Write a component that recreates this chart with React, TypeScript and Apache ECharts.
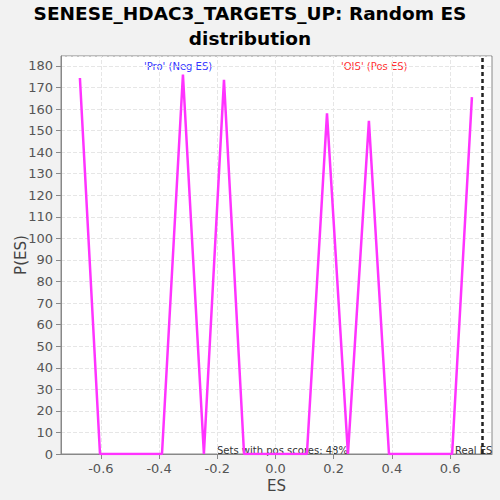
import React, { useEffect, useRef } from "react";
import * as echarts from "echarts";

const esValues = [-0.672, -0.603, -0.39, -0.318, -0.246, -0.177, -0.108, 0.108, 0.177, 0.249, 0.321, 0.39, 0.607, 0.675];
const pValues = [174.4, 0, 0, 176, 0, 173.5, 0, 0, 158, 0, 154.5, 0, 0, 165.5];
const xTicks = [-0.6, -0.4, -0.2, 0.0, 0.2, 0.4, 0.6];
const realES = 0.71;
const posScoreText = "Sets with pos scores: 48%";

export default function App() {
  const ref = useRef<HTMLDivElement>(null);
  useEffect(() => {
    const chart = echarts.init(ref.current!, null, { renderer: "svg" });
    const font = "DejaVu Sans";
    chart.setOption({
      animation: false,
      backgroundColor: "#f2f2f2",
      title: {
        text: "SENESE_HDAC3_TARGETS_UP: Random ES\ndistribution",
        left: "center",
        top: -4,
        textStyle: { fontFamily: font, fontWeight: "bold", fontSize: 18.5, lineHeight: 25, color: "#000" },
      },
      grid: {
        left: 61, right: 8, top: 56, bottom: 46, show: true, backgroundColor: "#fff", borderColor: "#888", borderWidth: 1,
        outerBoundsMode: "none", containLabel: false,
      },
      xAxis: {
        type: "value",
        min: -0.737,
        max: 0.744,
        name: "ES",
        nameLocation: "middle",
        nameGap: 24,
        nameMoveOverlap: false,
        nameTextStyle: { fontFamily: font, fontSize: 15, color: "#444" },
        axisLine: { onZero: false, lineStyle: { color: "#888" } },
        axisTick: { customValues: xTicks, lineStyle: { color: "#888" } },
        axisLabel: {
          customValues: xTicks,
          fontFamily: font,
          fontSize: 13,
          color: "#555",
          formatter: (v: number) => v.toFixed(1),
        },
        splitLine: { show: false },
      },
      yAxis: {
        type: "value",
        min: 0,
        max: 184.6,
        interval: 10,
        name: "P(ES)",
        nameLocation: "middle",
        nameGap: 33,
        nameMoveOverlap: false,
        nameTextStyle: { fontFamily: font, fontSize: 15, color: "#444" },
        axisLine: { show: true, onZero: false, lineStyle: { color: "#888" } },
        axisTick: { show: true, lineStyle: { color: "#888" } },
        axisLabel: { fontFamily: font, fontSize: 13, color: "#555", showMaxLabel: false },
        splitLine: { show: true, lineStyle: { color: "#e6e6e6", type: "dashed" } },
      },
      series: [
        {
          type: "line",
          data: esValues.map((e, i) => [e, pValues[i]]),
          showSymbol: false,
          lineStyle: { color: "#ff33ff", width: 2.5 },
          markLine: {
            symbol: "none",
            silent: true,
            label: { show: false },
            lineStyle: { color: "#e6e6e6", type: "dashed", width: 1 },
            data: xTicks.map((t) => ({ xAxis: t })),
            z: 1,
          },
          z: 3,
        },
        {
          type: "line",
          data: [],
          markLine: {
            symbol: "none",
            silent: true,
            label: { show: false },
            lineStyle: { color: "#222", type: [4, 3], width: 2.5 },
            data: [{ xAxis: realES }],
          },
        },
      ],
      graphic: [
        { type: "text", left: 144, top: 61, style: { text: "'Pro' (Neg ES)", fontFamily: font, fontSize: 10, fill: "#3333ff" } },
        { type: "text", left: 341, top: 61, style: { text: "'OIS' (Pos ES)", fontFamily: font, fontSize: 10, fill: "#ff3333" } },
        { type: "text", left: 217, top: 445, style: { text: posScoreText, fontFamily: font, fontSize: 10, fill: "#333" } },
        { type: "text", left: 455, top: 445, style: { text: "Real ES", fontFamily: font, fontSize: 10, fill: "#333" } },
      ],
    });
    return () => chart.dispose();
  }, []);
  return <div ref={ref} style={{ width: 500, height: 500, position: "fixed", left: 0, top: 0 }} />;
}
